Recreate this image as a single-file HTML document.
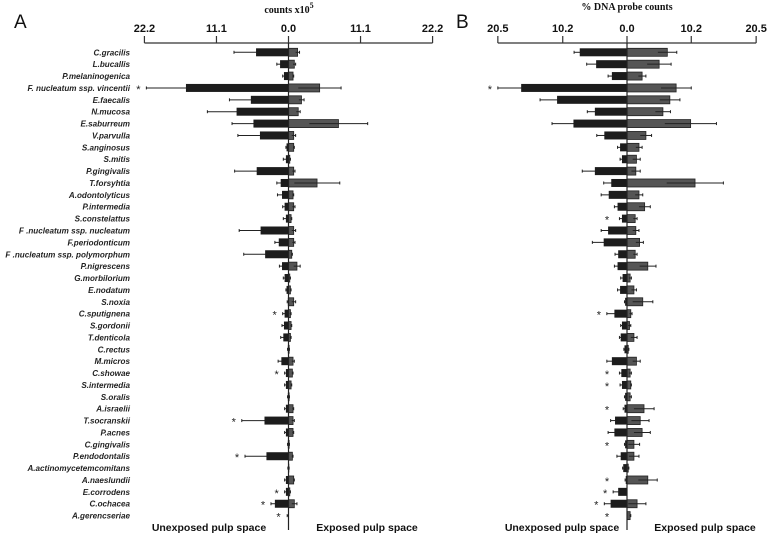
<!DOCTYPE html>
<html><head><meta charset="utf-8"><style>
body{margin:0;background:#fff}
svg{display:block}
.lab{font-family:"Liberation Sans",sans-serif;font-style:italic;font-weight:bold;font-size:8.1px;fill:#222}
.tick{font-family:"Liberation Sans",sans-serif;font-weight:bold;font-size:11px;fill:#111}
.ttl{font-family:"Liberation Serif",serif;font-weight:bold;font-size:10px;fill:#111}
.bot{font-family:"Liberation Sans",sans-serif;font-weight:bold;font-size:10.5px;fill:#111}
.pan{font-family:"Liberation Sans",sans-serif;font-size:19px;fill:#111}
</style></head><body>
<svg id="chart" width="768" height="540" viewBox="0 0 768 540" xmlns="http://www.w3.org/2000/svg">
<text class="pan" x="14" y="28">A</text>
<text class="pan" x="456" y="28">B</text>
<text class="ttl" x="289" y="13" text-anchor="middle">counts x10<tspan dy="-5" font-size="8">5</tspan></text>
<text class="ttl" x="627" y="10" text-anchor="middle">% DNA  probe counts</text>
<text class="bot" x="209" y="531" text-anchor="middle">Unexposed pulp space</text>
<text class="bot" x="367" y="531" text-anchor="middle">Exposed pulp space</text>
<text class="bot" x="562" y="531" text-anchor="middle">Unexposed pulp space</text>
<text class="bot" x="705" y="531" text-anchor="middle">Exposed pulp space</text>
</svg>
<script>
const species=["C.gracilis","L.bucallis","P.melaninogenica","F. nucleatum ssp. vincentii","E.faecalis","N.mucosa","E.saburreum","V.parvulla","S.anginosus","S.mitis","P.gingivalis","T.forsyhtia","A.odontolyticus","P.intermedia","S.constelattus","F .nucleatum ssp. nucleatum","F.periodonticum","F .nucleatum ssp. polymorphum","P.nigrescens","G.morbilorium","E.nodatum","S.noxia","C.sputignena","S.gordonii","T.denticola","C.rectus","M.micros","C.showae","S.intermedia","S.oralis","A.israelii","T.socranskii","P.acnes","C.gingivalis","P.endodontalis","A.actinomycetemcomitans","A.naeslundii","E.corrodens","C.ochacea","A.gerencseriae"];
const aTicks=["22.2","11.1","0.0","11.1","22.2"];
const aTickVals=[-22.2,-11.1,0,11.1,22.2];
const aUnexp=[5.0,1.3,0.7,15.8,5.8,8.0,5.4,4.4,0.3,0.4,4.9,1.2,1.0,0.6,0.4,4.3,1.5,3.6,1.0,0.6,0.3,0.1,0.6,0.7,0.8,0.1,1.1,0.4,0.4,0.1,0.4,3.7,0.4,0.1,3.4,0.05,0.4,0.4,2.1,0];
const aUnexpErr=[8.4,1.8,0.9,21.9,9.1,12.5,8.7,7.8,0.4,0.8,8.3,1.8,1.7,0.9,0.8,7.6,2.1,6.9,1.4,0.8,0.4,0.2,0.9,1.0,1.2,0.15,1.6,0.6,0.6,0.15,0.6,7.2,0.6,0.15,6.7,0.1,0.6,0.6,2.7,0.2];
const aExp=[1.4,0.9,0.7,4.8,2.0,1.5,7.7,0.8,0.8,0.2,0.8,4.4,0.7,0.8,0.4,0.8,0.8,0.5,1.3,0.2,0.3,0.8,0.3,0.4,0.3,0.1,0.7,0.6,0.4,0.1,0.7,0.7,0.7,0.1,0.6,0.05,0.8,0.2,0.9,0];
const aExpErr=[1.7,1.1,0.8,8.1,2.4,1.8,12.2,1.1,0.9,0.3,1.0,7.9,0.8,1.0,0.5,1.1,1.0,0.6,1.8,0.3,0.4,1.1,0.4,0.5,0.4,0.15,0.9,0.7,0.5,0.15,0.8,0.9,0.8,0.15,0.7,0.1,0.9,0.3,1.3,0];
const aStars=[0,0,0,1,0,0,0,0,0,0,0,0,0,0,0,0,0,0,0,0,0,0,1,0,0,0,0,1,0,0,0,1,0,0,1,0,0,1,1,1];
const bTicks=["20.5","10.2","0.0","10.2","20.5"];
const bTickVals=[-20.5,-10.2,0,10.2,20.5];
const bUnexp=[7.5,4.9,2.4,16.8,11.1,5.1,8.5,3.6,1.1,0.8,5.1,2.5,2.9,1.5,0.8,3.0,3.7,1.4,1.5,0.7,1.1,0.3,2.0,0.8,1.0,0.4,2.4,0.9,0.8,0.3,0.4,1.9,2.0,0.3,1.0,0.6,0.2,1.4,2.6,0];
const bUnexpErr=[8.4,6.4,3.0,20.5,13.8,6.3,11.9,4.8,1.5,1.1,7.1,3.7,4.1,2.0,1.2,4.1,5.5,1.9,2.0,1.0,1.5,0.4,3.2,1.0,1.2,0.5,3.2,1.2,1.1,0.4,0.6,2.6,3.0,0.4,1.6,0.7,0.3,2.2,3.6,0];
const bExp=[6.4,5.1,2.4,7.8,6.8,5.7,10.1,3.0,1.9,1.5,1.4,10.8,1.9,2.8,1.3,1.4,2.0,1.3,3.3,0.5,1.1,2.5,0.6,0.4,1.1,0.2,1.5,0.5,0.6,0.5,2.7,2.1,2.4,1.1,1.1,0.2,3.3,0,1.6,0.5];
const bExpErr=[7.9,7.0,3.0,10.2,8.4,6.9,14.2,3.9,2.4,2.1,2.1,15.3,2.5,3.7,1.6,1.9,2.6,1.6,4.6,0.7,1.5,4.1,0.8,0.6,1.6,0.3,2.1,0.7,0.7,0.7,4.3,3.5,3.7,2.0,1.9,0.3,4.8,0,3.0,0.6];
const bStars=[0,0,0,1,0,0,0,0,0,0,0,0,0,0,1,0,0,0,0,0,0,0,1,0,0,0,0,1,1,0,1,0,0,1,0,0,1,1,1,1];

const svg=document.getElementById('chart');
const NS='http://www.w3.org/2000/svg';
function mk(tag,attrs,parent){const e=document.createElementNS(NS,tag);for(const k in attrs)e.setAttribute(k,attrs[k]);(parent||svg).appendChild(e);return e;}
const rowY=i=>52.3+i*11.88;

function panel(p,cx,scale,ticks,tickVals,unexp,unexpErr,exp,expErr,stars,labels,starCap){
  const X=v=>cx+v*scale;
  const g=mk('g',{});
  
  
  const ax=mk('line',{x1:X(tickVals[0]),x2:X(tickVals[tickVals.length-1]),y1:43,y2:43,stroke:'#333','stroke-width':1.2},g);
  
  
  tickVals.forEach((v,i)=>{
    mk('line',{x1:X(v),x2:X(v),y1:36,y2:43,stroke:'#333','stroke-width':1.2},g);
    const t=mk('text',{x:X(v),y:32,'text-anchor':'middle',class:'tick'},g);
    t.textContent=ticks[i];
    
    
  });
  unexp.forEach((v,i)=>{
    const y=rowY(i),h=8;
    if(labels){
      const t=mk('text',{x:130,y:y+3,'text-anchor':'end',class:'lab'},g);
      t.textContent=species[i];
      
      
    }
    const e1=unexpErr[i];
    mk('line',{x1:X(-e1),x2:X(-(2*v-e1>0?2*v-e1:0)),y1:y,y2:y,stroke:'#222','stroke-width':1},g);
    if(e1>0)mk('line',{x1:X(-e1),x2:X(-e1),y1:y-1.5,y2:y+1.5,stroke:'#222','stroke-width':1},g);
    const b1=mk('rect',{x:X(-v),y:y-h/2,width:v*scale,height:h,fill:'#1c1c1c'},g);
    
    
    const w=exp[i],e2=expErr[i];
    const b2=mk('rect',{x:X(0),y:y-h/2,width:w*scale,height:h,fill:'#555',stroke:'#222','stroke-width':0.8},g);
    
    
    if(e2>0){
      mk('line',{x1:X(Math.max(0,2*w-e2)),x2:X(e2),y1:y,y2:y,stroke:'#222','stroke-width':1},g);
      mk('line',{x1:X(e2),x2:X(e2),y1:y-1.5,y2:y+1.5,stroke:'#222','stroke-width':1},g);
    }
    if(stars[i]){
      const sx=Math.min(X(-e1)-8,cx-starCap);
      const s=mk('text',{x:sx,y:y+5,'text-anchor':'middle','font-family':'Liberation Sans, sans-serif','font-size':'11',fill:'#222'},g);
      s.textContent='*';
      
      
    }
  });
  const c=mk('line',{x1:cx,x2:cx,y1:43,y2:530,stroke:'#222','stroke-width':1.2},g);
  
  
}
panel('a',288.5,6.49,aTicks,aTickVals,aUnexp,aUnexpErr,aExp,aExpErr,aStars,true,10);
panel('b',627,6.3,bTicks,bTickVals,bUnexp,bUnexpErr,bExp,bExpErr,bStars,false,20);
</script>
</body></html>
